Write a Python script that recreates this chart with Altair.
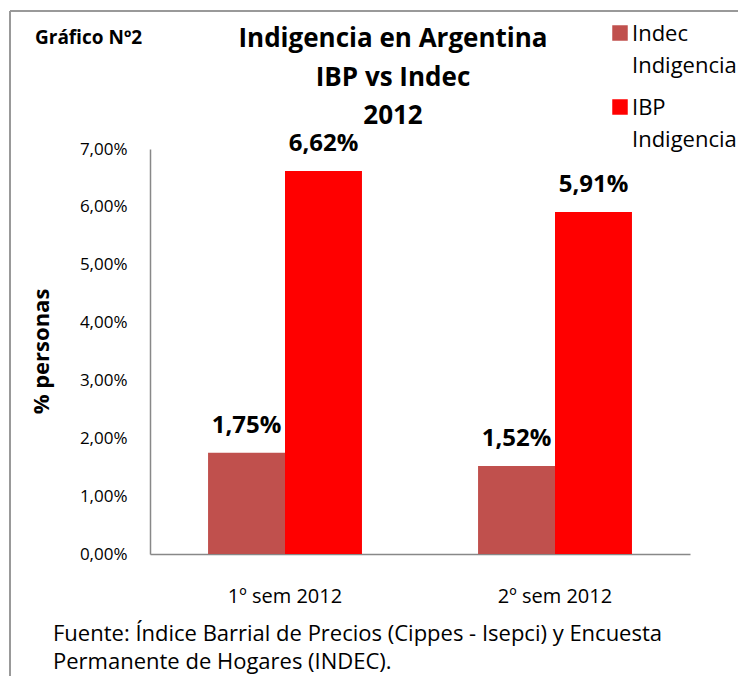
import altair as alt
import pandas as pd

FONT = "Open Sans"

periodos = ["1º sem 2012", "2º sem 2012"]
series = ["Indec Indigencia", "IBP Indigencia"]
indec = [0.0175, 0.0152]
ibp = [0.0662, 0.0591]
colores = ["#C0504D", "#FF0000"]
titulo = ["Indigencia en Argentina", "IBP vs Indec", "2012"]
fuente = ["Fuente: Índice Barrial de Precios (Cippes - Isepci) y Encuesta",
          "Permanente de Hogares (INDEC)."]

rows = []
for i, p in enumerate(periodos):
    rows.append({"periodo": p, "serie": series[0], "valor": indec[i]})
    rows.append({"periodo": p, "serie": series[1], "valor": ibp[i]})
df = pd.DataFrame(rows)

color = alt.Color("serie:N", scale=alt.Scale(domain=series, range=colores), legend=None)

base = alt.Chart(df).encode(
    x=alt.X("periodo:N", sort=periodos,
            scale=alt.Scale(paddingInner=0.43, paddingOuter=0.215),
            axis=alt.Axis(title=None, labelAngle=0, labelFontSize=20, labelFont=FONT,
                          labelColor="#000", labelPadding=32, ticks=False,
                          domainColor="#888", domainWidth=1.5)),
    xOffset=alt.XOffset("serie:N", sort=series, scale=alt.Scale(paddingInner=0, paddingOuter=0)),
    y=alt.Y("valor:Q", scale=alt.Scale(domain=[0, 0.07]),
            axis=alt.Axis(title="% personas", titleFontSize=22, titleFont=FONT,
                          titleFontWeight="bold", titleColor="#000",
                          titleX=-109, titleY=202, titleAngle=-90,
                          titleAlign="center", titleBaseline="middle",
                          values=[0, 0.01, 0.02, 0.03, 0.04, 0.05, 0.06, 0.07],
                          labelExpr="replace(format(datum.value, '.2%'), '.', ',')",
                          labelFontSize=17, labelFont=FONT, labelColor="#000",
                          labelPadding=23, ticks=False, grid=False,
                          domainColor="#888", domainWidth=1.5)),
)

shadow1 = base.transform_filter(alt.datum.serie == series[1]).mark_bar(
    color="#777", opacity=0.2, xOffset=7)
shadow2 = base.transform_filter(alt.datum.serie == series[1]).mark_bar(
    color="#777", opacity=0.3, xOffset=3)
bars = base.mark_bar().encode(color=color)
labels = base.transform_calculate(
    lab="replace(format(datum.valor, '.2%'), '.', ',')"
).mark_text(dy=-20, baseline="alphabetic", fontSize=24, fontWeight="bold", font=FONT,
            color="#000").encode(text="lab:N")

one = alt.Data(values=[{"k": 1}])
frame_top = alt.Chart(one).mark_rule(color="#999", strokeWidth=2).encode(
    x=alt.value(-140), x2=alt.value(700), y=alt.value(-138))
frame_left = alt.Chart(one).mark_rule(color="#999", strokeWidth=2).encode(
    x=alt.value(-140), y=alt.value(-138), y2=alt.value(600))

grafico = alt.Chart(one).mark_text(text="Gráfico Nº2", fontSize=19, fontWeight="bold",
                                   font=FONT, align="left", baseline="middle",
                                   color="#000").encode(x=alt.value(-115), y=alt.value(-111))

title = alt.Chart(one).mark_text(fontSize=26, fontWeight="bold", font=FONT, align="center",
                                 baseline="middle", lineHeight=38.5, color="#000").encode(
    x=alt.value(243), y=alt.value(-110), text=alt.value(titulo))

leg_df = pd.DataFrame({"serie": series})
leg = []
for i, s in enumerate(series):
    yy = -116 + i * 74
    leg.append(alt.Chart(leg_df).transform_filter(alt.datum.serie == s)
               .mark_square(size=240, opacity=1)
               .encode(x=alt.value(470), y=alt.value(yy), color=color))
    leg.append(alt.Chart(leg_df).transform_filter(alt.datum.serie == s)
               .mark_text(fontSize=22, font=FONT, align="left", baseline="middle",
                          lineHeight=32, color="#000")
               .encode(x=alt.value(482), y=alt.value(yy + 1),
                       text=alt.value(s.split(" "))))

footer = alt.Chart(one).mark_text(fontSize=22, font=FONT, align="left", baseline="middle",
                                  lineHeight=28, color="#000").encode(
    x=alt.value(-97), y=alt.value(485), text=alt.value(fuente))

chart = alt.layer(frame_top, frame_left, shadow1, shadow2, bars, labels, grafico, title,
                  *leg, footer).properties(
    width=540, height=405,
    autosize=alt.AutoSizeParams(type="none"),
    padding={"left": 142, "top": 141, "right": 48, "bottom": 122},
).configure(background="white").configure_view(strokeWidth=0, stroke="transparent")

chart.save("out.html", embed_options={"renderer": "svg", "actions": False})
